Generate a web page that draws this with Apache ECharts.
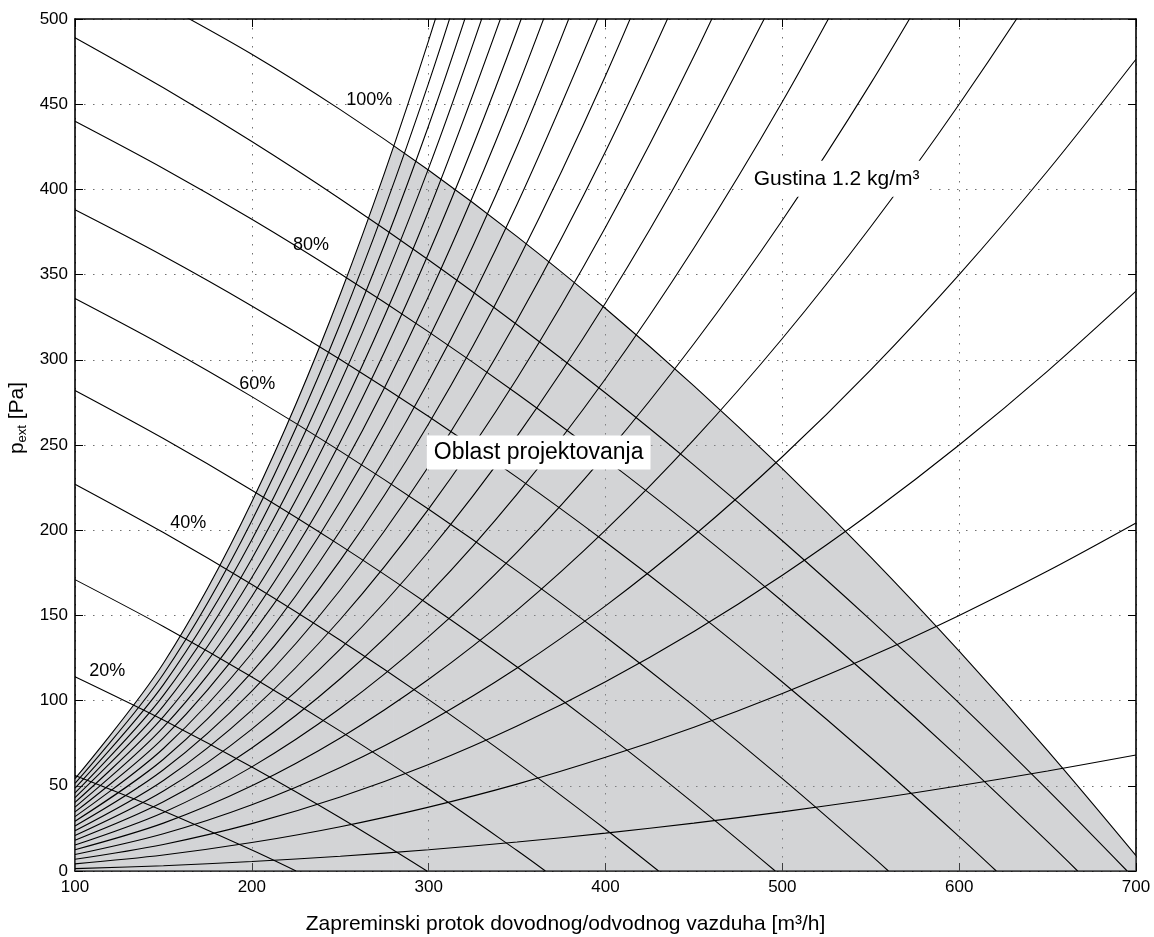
<!DOCTYPE html>
<html>
<head>
<meta charset="utf-8">
<script src="https://cdn.jsdelivr.net/npm/echarts@6/dist/echarts.min.js"></script>
<style>
  html, body { margin: 0; padding: 0; background: #fff; }
  #chart { width: 1154px; height: 937px; }
</style>
</head>
<body>
<div id="chart"></div>
<script>
// Axis ranges: volume flow [m³/h] and external pressure [Pa]
const flowMin = 100, flowMax = 700, flowStep = 100;
const pressureMin = 0, pressureMax = 500, pressureStep = 50;

// System (duct) characteristics, pressure [Pa] at these flows; each list stops
// once the curve has left the top of the chart.
const systemFlows = [100, 150, 200, 250, 300, 350, 400, 450, 500, 550, 600, 650, 700];
const systemCurves = [
  [1.4, 3.1, 5.6, 8.7, 12.5, 17.0, 22.2, 28.1, 34.7, 42.0, 50.0, 58.7, 68.1],
  [4.2, 9.4, 16.7, 26.0, 37.5, 51.0, 66.7, 84.4, 104.2, 126.0, 150.0, 176.0, 204.2],
  [6.9, 15.6, 27.8, 43.4, 62.5, 85.1, 111.1, 140.6, 173.6, 210.1, 250.0, 293.4, 340.3],
  [9.7, 21.9, 38.9, 60.8, 87.5, 119.1, 155.6, 196.9, 243.1, 294.1, 350.0, 410.8, 476.4],
  [12.5, 28.1, 50.0, 78.1, 112.5, 153.1, 200.0, 253.1, 312.5, 378.1, 450.0, 528.1, 612.5],
  [15.3, 34.4, 61.1, 95.5, 137.5, 187.2, 244.4, 309.4, 381.9, 462.2, 550.0],
  [18.1, 40.6, 72.2, 112.8, 162.5, 221.2, 288.9, 365.6, 451.4, 546.2],
  [20.8, 46.9, 83.3, 130.2, 187.5, 255.2, 333.3, 421.9, 520.8],
  [23.6, 53.1, 94.4, 147.6, 212.5, 289.2, 377.8, 478.1, 590.3],
  [26.4, 59.4, 105.6, 164.9, 237.5, 323.3, 422.2, 534.4],
  [29.2, 65.6, 116.7, 182.3, 262.5, 357.3, 466.7, 590.6],
  [31.9, 71.9, 127.8, 199.7, 287.5, 391.3, 511.1],
  [34.7, 78.1, 138.9, 217.0, 312.5, 425.3, 555.6],
  [37.5, 84.4, 150.0, 234.4, 337.5, 459.4, 600.0],
  [40.3, 90.6, 161.1, 251.7, 362.5, 493.4, 644.4],
  [43.1, 96.9, 172.2, 269.1, 387.5, 527.4],
  [45.8, 103.1, 183.3, 286.5, 412.5, 561.5],
  [48.6, 109.4, 194.4, 303.8, 437.5, 595.5],
  [51.4, 115.6, 205.6, 321.2, 462.5, 629.5],
  [54.2, 121.9, 216.7, 338.5, 487.5, 663.5]
];

// Fan characteristics at 10 % ... 100 % control signal: [flow, pressure]
const fan10 = [[100, 56.0], [150, 35.2], [200, 12.3], [225, 0]];
const fan20 = [[100, 114.0], [150, 88.6], [200, 61.0], [250, 31.2], [299, 0]];
const fan30 = [[100, 171.0], [150, 143.5], [200, 113.9], [250, 82.1], [300, 48.1], [350, 12.0], [366, 0]];
const fan40 = [[100, 227.0], [150, 198.6], [200, 168.1], [250, 135.4], [300, 100.6], [350, 63.6], [400, 24.5], [430, 0]];
const fan50 = [[100, 282.0], [150, 253.8], [200, 223.5], [250, 191.1], [300, 156.4], [350, 119.7], [400, 80.8], [450, 39.7], [496, 0]];
const fan60 = [[100, 336.0], [150, 308.3], [200, 278.4], [250, 246.4], [300, 212.3], [350, 176.0], [400, 137.5], [450, 96.9], [500, 54.2], [550, 9.3], [560, 0]];
const fan70 = [[100, 388.0], [150, 360.9], [200, 331.6], [250, 300.2], [300, 266.7], [350, 231.0], [400, 193.1], [450, 153.1], [500, 110.9], [550, 66.6], [600, 20.2], [621, 0]];
const fan80 = [[100, 440.0], [150, 412.3], [200, 382.5], [250, 350.5], [300, 316.4], [350, 280.1], [400, 241.6], [450, 201.1], [500, 158.3], [550, 113.4], [600, 66.4], [650, 17.2], [667, 0]];
const fan90 = [[100, 489.0], [150, 459.6], [200, 428.1], [250, 394.4], [300, 358.6], [350, 320.6], [400, 280.5], [450, 238.2], [500, 193.8], [550, 147.2], [600, 98.5], [650, 47.6], [695, 0]];
const fan100 = [[150, 508.4], [200, 479.3], [250, 446.8], [300, 411.2], [350, 372.3], [400, 330.1], [450, 284.7], [500, 236.1], [550, 184.2], [600, 129.0], [650, 70.6], [700, 9.0]];
const fanCurves = [fan10, fan20, fan30, fan40, fan50, fan60, fan70, fan80, fan90, fan100];

// Where the steepest system curve meets the 100 % fan curve (top of the design area)
const designCorner = [280.3, 425.6];

// Curve annotations and their anchor points [flow, pressure]
const fanLabelTexts = ['20%', '40%', '60%', '80%', '100%'];
const fanLabelAnchors = [[118.2, 117.5], [164.1, 204.2], [203.1, 286.0], [233.4, 367.4], [266.4, 452.5]];
const areaText = 'Oblast projektovanja';
const areaTextAnchor = [362.2, 245.6];
const densityText = 'Gustina 1.2 kg/m³';
const densityTextAnchor = [530.7, 406.2];

const FONT = '"Liberation Sans", Arial, Helvetica, sans-serif';
const INK = '#000';

const chart = echarts.init(document.getElementById('chart'), null, { renderer: 'canvas' });

const curveLine = { color: INK, width: 1.1 };

const systemSeries = systemCurves.map(ps => ({
  type: 'line',
  data: ps.map((p, i) => [systemFlows[i], p]),
  smooth: 0.33,
  symbol: 'none',
  lineStyle: curveLine,
  clip: true,
  silent: true,
  z: 3
}));

const fanSeries = fanCurves.map(pts => ({
  type: 'line',
  data: pts,
  smooth: 0.33,
  symbol: 'none',
  lineStyle: curveLine,
  clip: true,
  silent: true,
  z: 3
}));

// Design area: below the steepest system curve up to the corner, then below the 100 % curve
const steepest = systemCurves[systemCurves.length - 1];
const fillLeft = steepest
  .map((p, i) => [systemFlows[i], p])
  .filter(pt => pt[0] < designCorner[0])
  .concat([designCorner]);
const fillRight = [designCorner].concat(fan100.filter(pt => pt[0] > designCorner[0]));

const fillStyle = { color: 'rgba(148,150,155,0.41)', opacity: 1 };
const fillSeries = [fillLeft, fillRight].map(d => ({
  type: 'line',
  data: d,
  smooth: 0.33,
  symbol: 'none',
  lineStyle: { width: 0, opacity: 0 },
  areaStyle: fillStyle,
  clip: true,
  silent: true,
  z: 1
}));

const textSeries = {
  type: 'scatter',
  symbolSize: 0,
  silent: true,
  z: 10,
  itemStyle: { opacity: 1 },
  data: fanLabelTexts.map((t, i) => ({
    name: t,
    value: fanLabelAnchors[i],
    label: { show: true, position: 'inside', formatter: '{b}', color: INK, fontSize: 18, fontFamily: FONT }
  })).concat([
    {
      name: areaText,
      value: areaTextAnchor,
      label: {
        show: true, position: 'inside', formatter: '{b}', color: INK,
        fontSize: 23, fontFamily: FONT, backgroundColor: '#fff', padding: [6, 7, 5, 7]
      }
    },
    {
      name: densityText,
      value: densityTextAnchor,
      label: {
        show: true, position: 'inside', formatter: '{b}', color: INK,
        fontSize: 21, fontFamily: FONT, backgroundColor: '#fff', padding: [8, 5, 7, 5]
      }
    }
  ])
};

const frameLine = { color: INK, width: 1.6 };
const innerTick = { show: true, inside: true, length: 8, lineStyle: { color: INK, width: 1 } };
const dotted = { show: true, lineStyle: { color: '#6f6f6f', width: 1, type: [1.5, 7.5] } };

chart.setOption({
  animation: false,
  backgroundColor: '#fff',
  grid: { left: 75, right: 18, top: 19, bottom: 66, containLabel: false, outerBoundsMode: 'none' },
  xAxis: [
    {
      type: 'value', position: 'bottom',
      min: flowMin, max: flowMax, interval: flowStep,
      axisLine: { show: true, onZero: false, lineStyle: frameLine },
      axisTick: innerTick,
      axisLabel: { color: INK, fontSize: 17, fontFamily: FONT, margin: 8 },
      splitLine: dotted,
      name: 'Zapreminski protok dovodnog/odvodnog vazduha [m³/h]',
      nameLocation: 'middle',
      nameGap: 43,
      nameTextStyle: { color: INK, fontSize: 21, fontFamily: FONT, padding: [0, 80, 0, 0] }
    },
    {
      type: 'value', position: 'top',
      min: flowMin, max: flowMax, interval: flowStep,
      axisLine: { show: true, onZero: false, lineStyle: frameLine },
      axisTick: innerTick,
      axisLabel: { show: false },
      splitLine: { show: false }
    }
  ],
  yAxis: [
    {
      type: 'value', position: 'left',
      min: pressureMin, max: pressureMax, interval: pressureStep,
      axisLine: { show: true, onZero: false, lineStyle: frameLine },
      axisTick: innerTick,
      axisLabel: { color: INK, fontSize: 17, fontFamily: FONT, margin: 7 },
      splitLine: dotted,
      name: '{p|p}{s|ext}{p| [Pa]}',
      nameLocation: 'middle',
      nameRotate: 90,
      nameGap: 42,
      nameTextStyle: {
        color: INK, fontFamily: FONT, padding: [0, 0, 0, 54],
        rich: {
          p: { fontSize: 21, fontFamily: FONT, color: INK, lineHeight: 24 },
          s: { fontSize: 13, fontFamily: FONT, color: INK, lineHeight: 13, verticalAlign: 'bottom' }
        }
      }
    },
    {
      type: 'value', position: 'right',
      min: pressureMin, max: pressureMax, interval: pressureStep,
      axisLine: { show: true, onZero: false, lineStyle: frameLine },
      axisTick: innerTick,
      axisLabel: { show: false },
      splitLine: { show: false }
    }
  ],
  series: fillSeries.concat(systemSeries, fanSeries, [textSeries])
});
</script>
</body>
</html>
